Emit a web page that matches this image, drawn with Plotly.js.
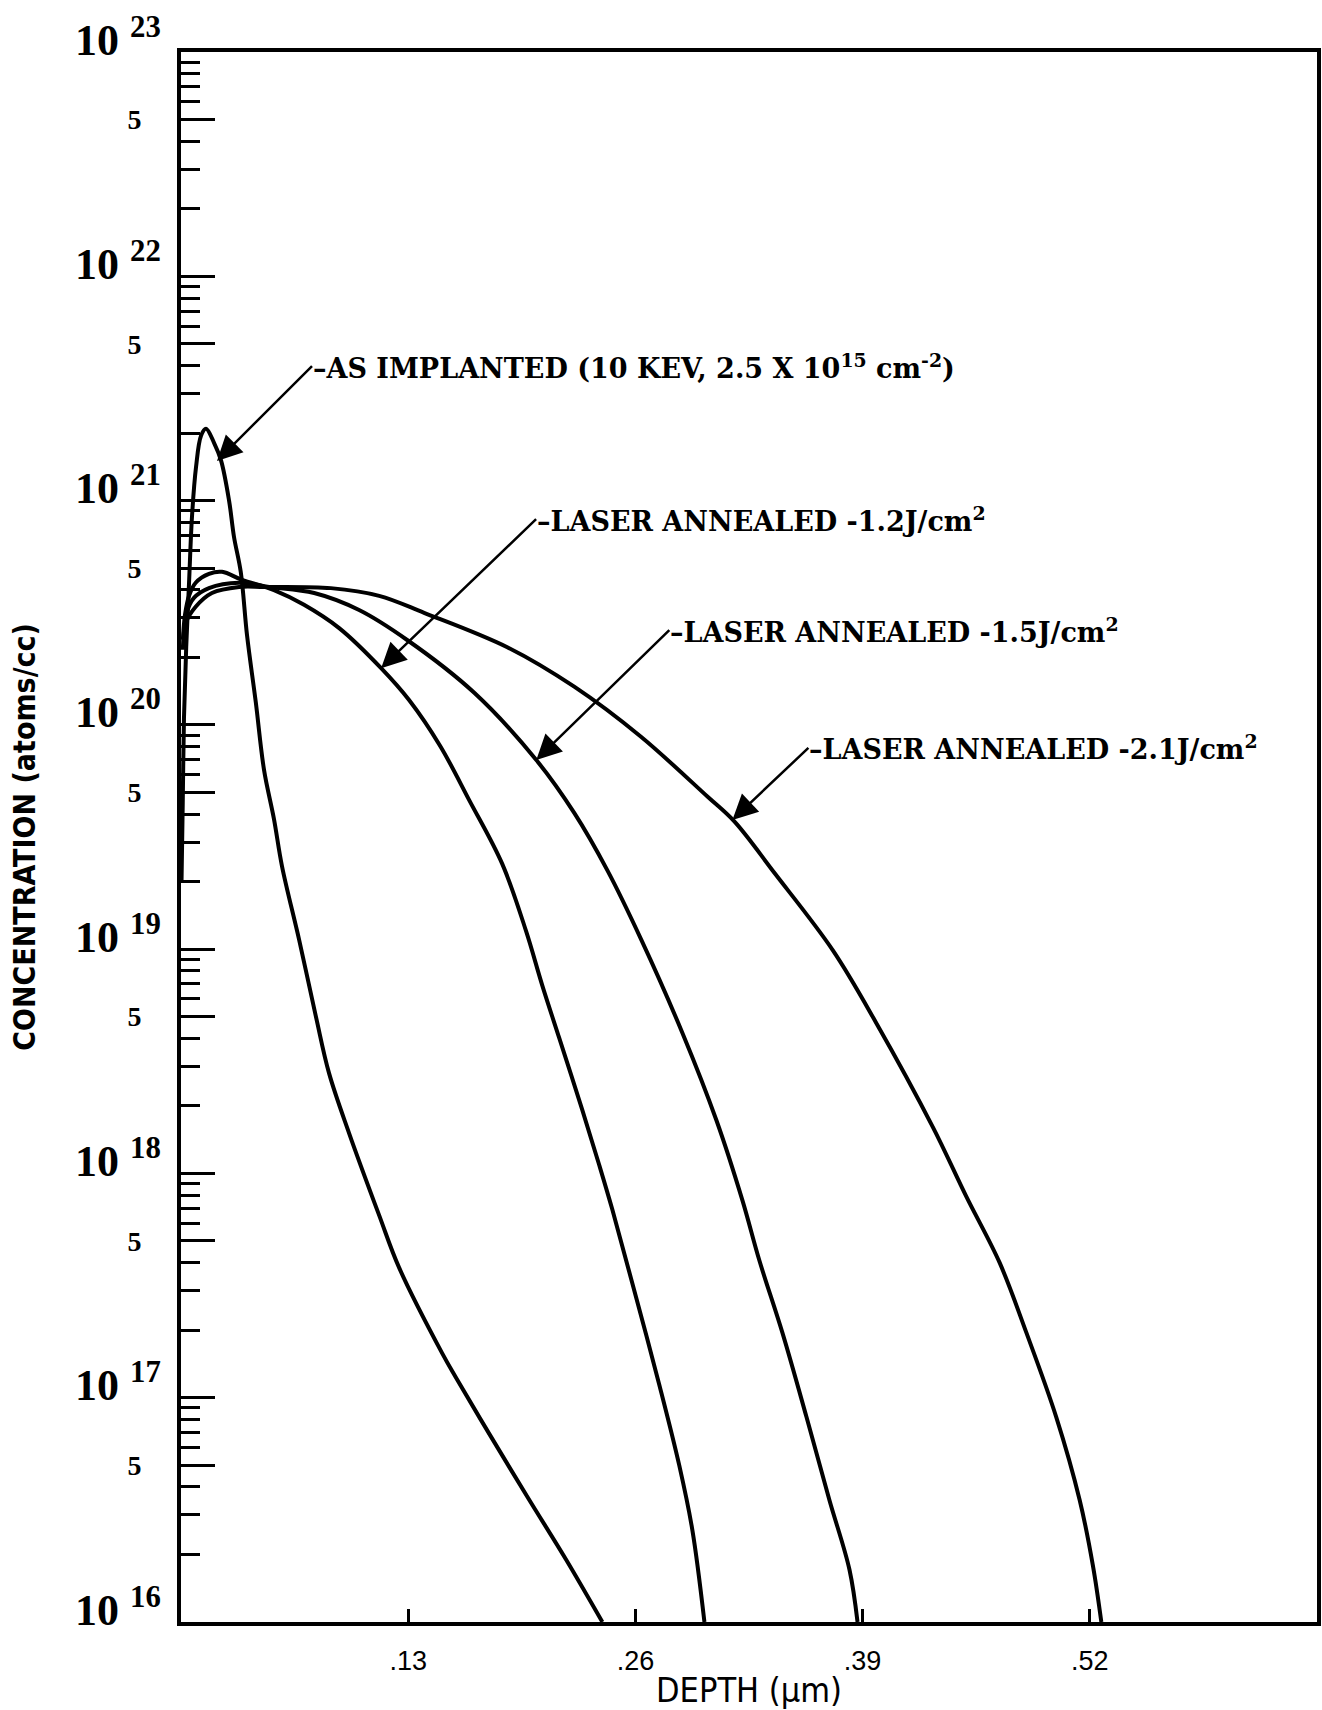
<!DOCTYPE html>
<html><head><meta charset="utf-8">
<script src="https://cdn.plot.ly/plotly-3.0.1.min.js"></script>
<style>html,body{margin:0;padding:0;background:#fff}</style>
</head><body>
<div id="chart" style="width:1322px;height:1710px"></div>
<script>
// ---- data (depth in µm, concentration in atoms/cc) ----
const depthAsImplanted = [0.0003,0.0010,0.0017,0.0030,0.0046,0.0063,0.0086,0.0115,0.0143,0.0189,0.0229,0.0275,0.0303,0.0342,0.0378,0.0428,0.0475,0.0532,0.0578,0.0676,0.0772,0.0847,0.0962,0.1134,0.1248,0.1494,0.1573,0.1764,0.1993,0.2203,0.2411];
const concAsImplanted  = [2.0e19,4.5e19,1.07e20,2.24e20,4.3e20,8.5e20,1.41e21,1.95e21,2.09e21,1.81e21,1.51e21,1.0e21,6.9e20,4.8e20,2.5e20,1.26e20,6.3e19,3.8e19,2.34e19,1.1e19,5.0e18,2.8e18,1.51e18,6.5e17,3.8e17,1.58e17,1.23e17,6.9e16,3.5e16,1.9e16,1.0e16];

const depthLaser12 = [0.0011,0.0023,0.0046,0.0084,0.0160,0.0235,0.0349,0.0532,0.0704,0.0905,0.1145,0.1305,0.1483,0.1649,0.1838,0.1975,0.2067,0.2164,0.2296,0.2393,0.2468,0.2582,0.2737,0.2851,0.2926,0.2995];
const concLaser12  = [2.4e20,3.1e20,3.76e20,4.3e20,4.71e20,4.81e20,4.43e20,3.99e20,3.43e20,2.7e20,1.79e20,1.29e20,8.05e19,4.62e19,2.4e19,1.2e19,6.9e18,4.02e18,1.92e18,1.09e18,6.9e17,3.25e17,1.14e17,4.99e16,2.57e16,1.0e16];

const depthLaser15 = [0.0017,0.0034,0.0074,0.0160,0.0332,0.0504,0.0762,0.1019,0.1294,0.1678,0.2033,0.2250,0.2439,0.2634,0.2869,0.3063,0.3212,0.3309,0.3441,0.3579,0.3710,0.3825,0.3871];
const concLaser15  = [2.39e20,3.18e20,3.68e20,4.07e20,4.3e20,4.12e20,3.87e20,3.25e20,2.39e20,1.39e20,6.97e19,4.05e19,2.25e19,1.1e19,4.23e18,1.73e18,7.6e17,4.1e17,1.95e17,8.2e16,3.5e16,1.71e16,1.0e16];

const depthLaser21 = [0.0011,0.0027,0.0084,0.0177,0.0332,0.0475,0.0857,0.1134,0.1391,0.1867,0.2250,0.2632,0.3012,0.3166,0.3395,0.3729,0.3978,0.4302,0.4493,0.4684,0.4837,0.5008,0.5142,0.5218,0.5266];
const concLaser21  = [2.16e20,2.84e20,3.36e20,3.87e20,4.12e20,4.12e20,4.07e20,3.76e20,3.16e20,2.22e20,1.48e20,8.85e19,4.79e19,3.71e19,2.19e19,9.9e18,4.69e18,1.61e18,7.9e17,4.0e17,1.95e17,8.2e16,3.5e16,1.78e16,1.0e16];

// curve labels and the point on each curve their arrow touches
const curveLabels = [
  "–AS IMPLANTED (10 KEV, 2.5 X 10<sup>15</sup> cm<sup>-2</sup>)",
  "–LASER ANNEALED -1.2J/cm<sup>2</sup>",
  "–LASER ANNEALED -1.5J/cm<sup>2</sup>",
  "–LASER ANNEALED -2.1J/cm<sup>2</sup>"
];
const arrowDepth = [0.0206, 0.1145, 0.2033, 0.3155];
const arrowConc  = [1.5e21, 1.79e20, 6.97e19, 3.77e19];

// axis ticks
const xTickVals  = [0.13, 0.26, 0.39, 0.52];
const xTickText  = [".13", ".26", ".39", ".52"];
const decadeExp  = [16, 17, 18, 19, 20, 21, 22, 23];
const fiveExp    = [16, 17, 18, 19, 20, 21, 22];
const minorMant  = [2, 3, 4, 6, 7, 8, 9];

// ---- build figure ----
const lineStyle = {color: "black", width: 4, shape: "spline", smoothing: 1.0};
const series = [
  [depthAsImplanted, concAsImplanted, "AS IMPLANTED"],
  [depthLaser12, concLaser12, "LASER ANNEALED -1.2J/cm2"],
  [depthLaser15, concLaser15, "LASER ANNEALED -1.5J/cm2"],
  [depthLaser21, concLaser21, "LASER ANNEALED -2.1J/cm2"]
];
const traces = series.map(s => ({
  type: "scatter", mode: "lines", x: s[0], y: s[1], name: s[2],
  line: lineStyle, showlegend: false, hoverinfo: "skip"
}));
// holder so the decade-tick axis is drawn
traces.push({type: "scatter", mode: "lines", x: [null], y: [null], yaxis: "y2", showlegend: false, hoverinfo: "skip"});

const decadeVals = decadeExp.map(e => Math.pow(10, e));
const fiveVals = fiveExp.map(e => 5 * Math.pow(10, e));
const fiveText = fiveExp.map(() => "5");
const yMinor = [];
fiveExp.forEach(e => minorMant.forEach(m => yMinor.push(m * Math.pow(10, e))));

const serifBold = {family: "Liberation Serif, Times New Roman, serif", color: "black", weight: "bold"};
const labelFont = {family: "DejaVu Serif, serif", size: 27, color: "black", weight: "bold"};

const annotations = [];
decadeExp.forEach(e => annotations.push({
  text: "10 <sup>" + e + "</sup>", xref: "paper", x: 0, xanchor: "right", xshift: -18,
  yref: "y", y: e, yanchor: "middle", yshift: 15, showarrow: false,
  font: Object.assign({size: 44}, serifBold)
}));
const tails = [[95, -95], [155, -149], [133, -130], [76, -72]];
curveLabels.forEach((t, i) => annotations.push({
  text: t, xref: "x", yref: "y", x: arrowDepth[i], y: Math.log10(arrowConc[i]),
  ax: tails[i][0], ay: tails[i][1], xanchor: "left", yanchor: "middle",
  showarrow: true, arrowhead: 2, arrowsize: 2, arrowwidth: 2.5, arrowcolor: "black",
  font: labelFont, borderpad: 0
}));

const sansCond = "Liberation Sans Narrow, DejaVu Sans Condensed, Liberation Sans, sans-serif";
const layout = {
  width: 1322, height: 1710,
  margin: {l: 181, r: 5, t: 52, b: 88},
  paper_bgcolor: "white", plot_bgcolor: "white",
  showlegend: false,
  xaxis: {
    range: [0, 0.65], tickmode: "array", tickvals: xTickVals, ticktext: xTickText,
    ticks: "inside", ticklen: 13, tickwidth: 3, tickcolor: "black",
    showline: true, linewidth: 4, linecolor: "black", mirror: true,
    showgrid: false, zeroline: false, ticklabelstandoff: 12,
    tickfont: {family: "Liberation Sans, Arial, sans-serif", size: 27, color: "black"},
    title: {text: "DEPTH (μm)", standoff: 4,
      font: {family: sansCond, size: 34, color: "black"}}
  },
  yaxis: {
    type: "log", range: [16, 23], tickmode: "array", tickvals: fiveVals, ticktext: fiveText,
    ticks: "inside", ticklen: 34, tickwidth: 3, tickcolor: "black",
    minor: {tickmode: "array", tickvals: yMinor, ticks: "inside", ticklen: 19, tickwidth: 3, tickcolor: "black", showgrid: false},
    showline: true, linewidth: 4, linecolor: "black", mirror: true,
    showgrid: false, zeroline: false, ticklabelstandoff: 30,
    tickfont: Object.assign({size: 28}, serifBold),
    title: {text: "CONCENTRATION (atoms/cc)", standoff: 84,
      font: {family: sansCond, size: 30, color: "black", weight: "bold"}}
  },
  yaxis2: {
    type: "log", range: [16, 23], overlaying: "y", side: "left", anchor: "x",
    tickmode: "array", tickvals: decadeVals, showticklabels: false,
    ticks: "inside", ticklen: 34, tickwidth: 3, tickcolor: "black",
    showline: false, showgrid: false, zeroline: false
  },
  annotations: annotations
};

Plotly.newPlot("chart", traces, layout, {displayModeBar: false, staticPlot: true});
</script>
</body></html>
